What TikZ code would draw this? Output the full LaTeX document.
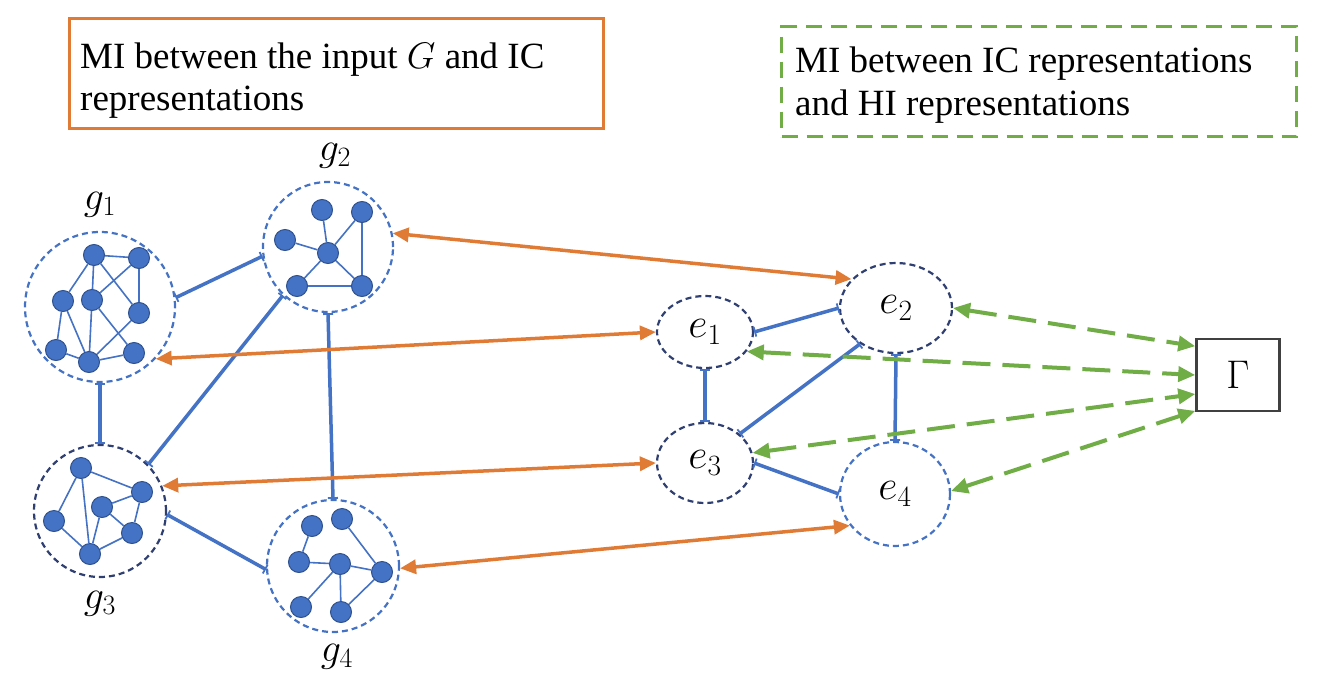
\RequirePackage{fix-cm}
\documentclass[tikz,border=0pt]{standalone}
\usepackage{fontspec}
\setmainfont{Liberation Serif}
\usetikzlibrary{arrows.meta,shapes.geometric}
\definecolor{blu}{HTML}{4472C4}
\definecolor{bludark}{HTML}{2F528F}
\definecolor{navy}{HTML}{2F3F72}
\definecolor{org}{HTML}{E07B35}
\definecolor{grn}{HTML}{70AD47}
\tikzset{
  dot/.style={circle, fill=blu, draw=bludark, line width=1pt, minimum size=21pt, inner sep=0pt},
  sub/.style={draw=blu, line width=1.6pt},
  grp/.style={circle, draw=blu, dash pattern=on 6pt off 4pt, line width=2.2pt, inner sep=0pt},
  emb/.style={ellipse, draw=navy, dash pattern=on 6pt off 4pt, line width=2.2pt, inner sep=0pt, font=\fontsize{42}{46}\selectfont},
  link/.style={draw=blu, line width=3.5pt, arrows={Bar[width=10pt,line width=1.8pt]-Bar[width=10pt,line width=1.8pt]}},
  mi/.style={draw=org, line width=3.5pt, arrows={Triangle[length=16pt,width=14pt]-Triangle[length=16pt,width=14pt]}},
  hi/.style={draw=grn, line width=4pt, dash pattern=on 28pt off 12pt, arrows={Triangle[length=17pt,width=15pt]-Triangle[length=17pt,width=15pt]}},
  lbl/.style={font=\fontsize{40}{44}\selectfont},
  txt/.style={anchor=base west, inner sep=0pt, font=\fontsize{37}{44}\selectfont},
}
\begin{document}
\begin{tikzpicture}[x=1pt,y=-1pt]
\useasboundingbox (0,0) rectangle (1340,680);

% text boxes
\node[draw=org, line width=3pt, minimum width=534pt, minimum height=110pt, anchor=north west, inner sep=0pt] (box1) at (68,17) {};
\node[txt] (t11) at (80,68) {MI between the input $G$ and IC};
\node[txt] (t12) at (80,110) {representations};
\node[draw=grn, line width=3pt, dash pattern=on 16pt off 9pt, minimum width=515pt, minimum height=110pt, anchor=north west, inner sep=0pt] (box2) at (780,25) {};
\node[txt] (t21) at (795,72) {MI between IC representations};
\node[txt] (t22) at (795,115) {and HI representations};

% group circles
\node[grp, minimum size=150pt] (g1) at (100,307) {};
\node[grp, minimum size=130pt] (g2) at (328,247) {};
\node[grp, draw=navy, minimum size=132pt] (g3) at (100,511) {};
\node[grp, minimum size=132pt] (g4) at (333,566) {};

\node[lbl] (lg1) at (100,205) {$g_1$};
\node[lbl] (lg2) at (335,156) {$g_2$};
\node[lbl] (lg3) at (100,604) {$g_3$};
\node[lbl] (lg4) at (337,657) {$g_4$};

% g1 dots
\node[dot] (a1) at (94,255) {};
\node[dot] (b1) at (139,258) {};
\node[dot] (c1) at (63,301) {};
\node[dot] (d1) at (92,300) {};
\node[dot] (e1d) at (139,313) {};
\node[dot] (f1) at (56,350) {};
\node[dot] (h1g) at (89,362) {};
\node[dot] (h1) at (134,353) {};
\foreach \u/\v in {a1/b1,a1/c1,a1/d1,a1/e1d,b1/d1,b1/e1d,c1/f1,c1/h1g,d1/h1g,d1/h1,e1d/h1g,f1/h1g,h1g/h1}
  \draw[sub] (\u) -- (\v);

% g2 dots
\node[dot] (a2) at (322,210) {};
\node[dot] (b2) at (362,212) {};
\node[dot] (c2) at (285,240) {};
\node[dot] (d2) at (328,253) {};
\node[dot] (e2d) at (297,286) {};
\node[dot] (f2) at (362,286) {};
\foreach \u/\v in {a2/d2,b2/d2,b2/f2,c2/d2,d2/e2d,d2/f2,e2d/f2}
  \draw[sub] (\u) -- (\v);

% g3 dots
\node[dot] (a3) at (81,468) {};
\node[dot] (b3) at (142,492) {};
\node[dot] (c3) at (102,507) {};
\node[dot] (d3) at (54,521) {};
\node[dot] (e3d) at (132,533) {};
\node[dot] (f3) at (90,554) {};
\foreach \u/\v in {a3/b3,a3/d3,a3/f3,c3/b3,c3/e3d,c3/f3,d3/f3,f3/e3d,b3/e3d}
  \draw[sub] (\u) -- (\v);

% g4 dots
\node[dot] (a4) at (312,526) {};
\node[dot] (b4) at (342,519) {};
\node[dot] (c4) at (299,562) {};
\node[dot] (d4) at (340,564) {};
\node[dot] (e4d) at (382,572) {};
\node[dot] (f4) at (301,607) {};
\node[dot] (g4d) at (341,612) {};
\foreach \u/\v in {a4/c4,b4/e4d,c4/d4,d4/e4d,d4/f4,d4/g4d,g4d/e4d}
  \draw[sub] (\u) -- (\v);

% embedding ellipses
\node[emb, minimum width=96pt, minimum height=72pt] (e1) at (705,332) {$e_1$};
\node[emb, minimum width=112pt, minimum height=90pt] (e2) at (896,308) {$e_2$};
\node[emb, minimum width=96pt, minimum height=80pt] (e3) at (705,463) {$e_3$};
\node[emb, draw=blu, minimum width=110pt, minimum height=104pt] (e4) at (895,494) {$e_4$};

% Gamma
\node[draw=black!75, line width=2.5pt, minimum width=83pt, minimum height=72pt, inner sep=0pt, font=\fontsize{40}{44}\selectfont] (G) at (1238,375) {$\Gamma$};

% group links
\draw[link] (g1.7) -- (g2.188);
\draw[link] (g1.south) -- (g3.north);
\draw[link] (g2.227) -- (g3.44);
\draw[link] (g2.south) -- (g4.north);
\draw[link] (g3.-3) -- (g4.183);

% embedding links
\draw[link] (e1.east) -- (e2.west);
\draw[link] (e1.south) -- (e3.north);
\draw[link] (e2.225) -- (e3.40);
\draw[link] (e2.south) -- (e4.north);
\draw[link] (e3.east) -- (e4.west);

% MI arrows
\draw[mi] (g1.-43) -- (e1.west);
\draw[mi] (g2.12) -- (e2.147);
\draw[mi] (g3.22) -- (e3.west);
\draw[mi] (g4.-2) -- (e4.215);

% HI arrows
\draw[hi] (e2.east) -- (G.146);
\draw[hi] (e1.-25) -- (G.west);
\draw[hi] (e3.12) -- (G.204);
\draw[hi] (e4.3) -- (G.220);
\end{tikzpicture}
\end{document}
